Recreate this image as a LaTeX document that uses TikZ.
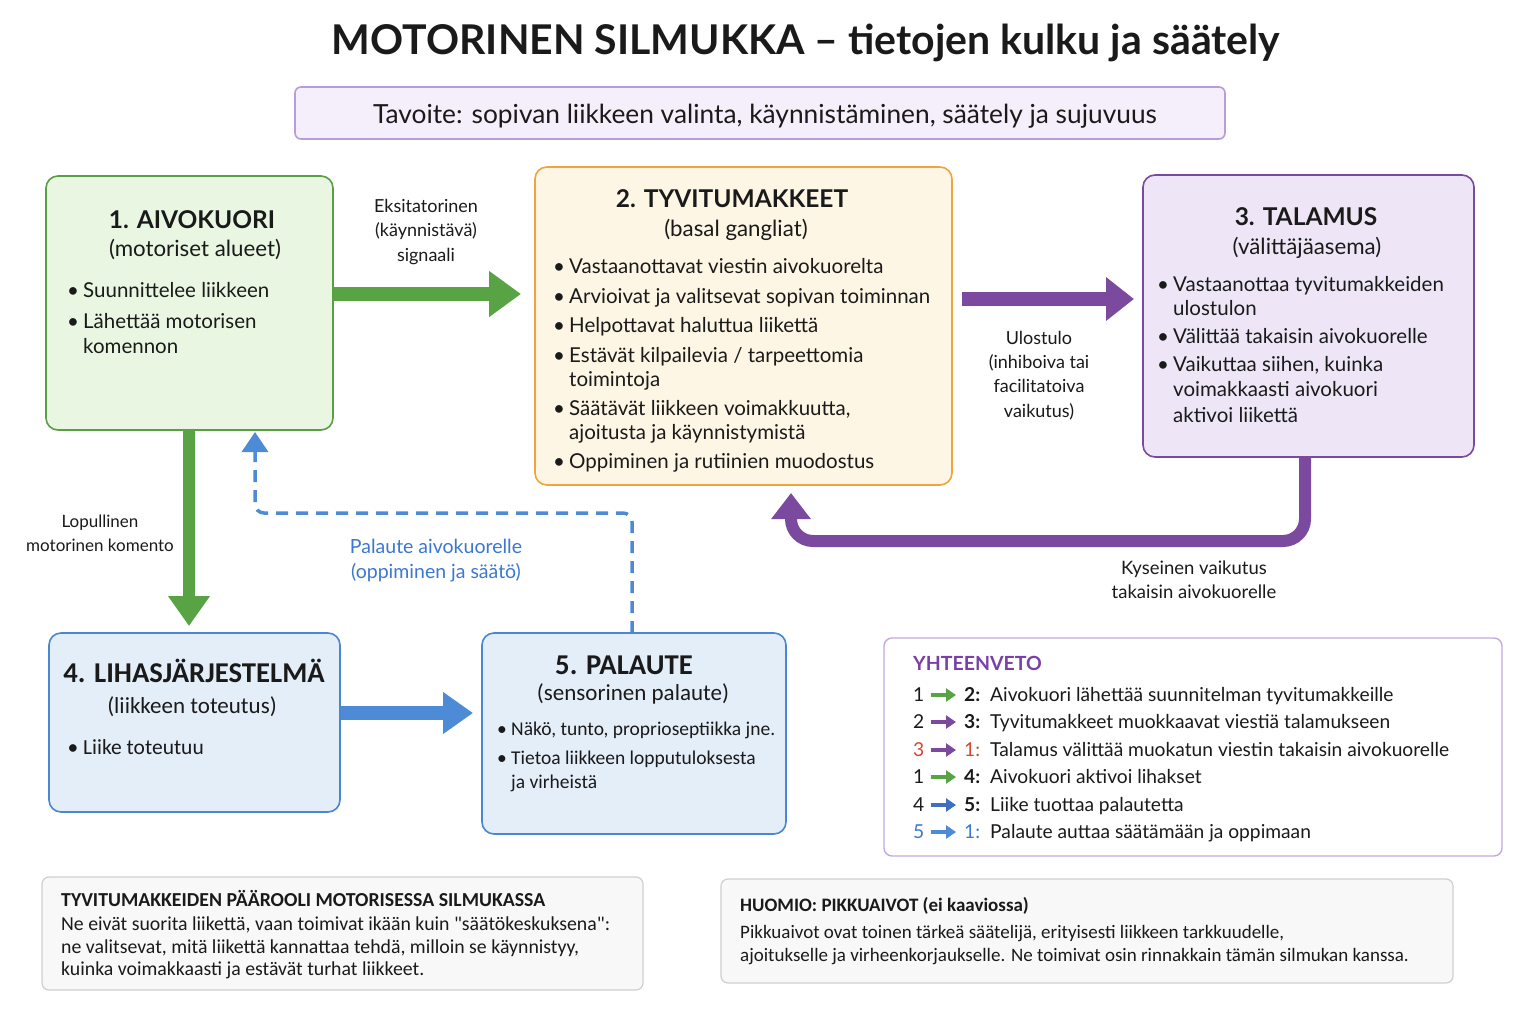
\documentclass[tikz,border=0pt]{standalone}
\usepackage{fontspec}
\setmainfont{Lato}
\newfontfamily\narrow{Carlito}
\usetikzlibrary{arrows.meta,calc}
\definecolor{gfill}{HTML}{E8F6E2}
\definecolor{gline}{HTML}{5A9E46}
\definecolor{garr}{HTML}{58A445}
\definecolor{ofill}{HTML}{FEF6E4}
\definecolor{oline}{HTML}{F1A43A}
\definecolor{pfill}{HTML}{EEE6F6}
\definecolor{pline}{HTML}{7A4AA0}
\definecolor{parr}{HTML}{7B4A9E}
\definecolor{bfill}{HTML}{E4EEF9}
\definecolor{bline}{HTML}{4A87D1}
\definecolor{barr}{HTML}{4E8BD6}
\definecolor{goalfill}{HTML}{F4EFFA}
\definecolor{goalline}{HTML}{B79DD9}
\definecolor{sumline}{HTML}{C3A9DF}
\definecolor{sumhead}{HTML}{7A3FA8}
\definecolor{nred}{HTML}{D5452E}
\definecolor{nblue}{HTML}{3B78D0}
\definecolor{dblue}{HTML}{3F6FC0}
\definecolor{noteline}{HTML}{CFCFCF}
\definecolor{notefill}{HTML}{F8F8F8}
\definecolor{txt}{HTML}{1A1A1A}
\newcommand\bitem[5]{%
  \node[itm] (#1) at (#3,#4) {#5};
  \node[itm,anchor=base] (#1b) at (#2,#4) {\textbullet};}
\newcommand\nitem[5]{%
  \node[nitm] (#1) at (#3,#4) {#5};
  \node[nitm,anchor=base] (#1b) at (#2,#4) {\textbullet};}
\begin{document}
\begin{tikzpicture}[x=1pt,y=-1pt,
  every node/.style={text=txt},
  box/.style={rounded corners=12pt, line width=1.6pt, inner sep=0pt},
  ttl/.style={font=\fontsize{24.5}{28}\selectfont\bfseries, anchor=base, inner sep=0pt},
  sub/.style={font=\fontsize{22.3}{24}\selectfont, anchor=base, inner sep=0pt},
  itm/.style={font=\fontsize{20.5}{22}\selectfont, anchor=base west, inner sep=0pt},
  nttl/.style={font=\narrow\fontsize{28.7}{30}\selectfont\bfseries, anchor=base, inner sep=0pt},
  nsub/.style={font=\narrow\fontsize{23}{26}\selectfont, anchor=base, inner sep=0pt},
  nitm/.style={font=\narrow\fontsize{19.5}{22}\selectfont, anchor=base west, inner sep=0pt},
  lbl/.style={font=\fontsize{18}{24.3}\selectfont, align=center, inner sep=0pt},
  srow/.style={font=\fontsize{19.2}{20}\selectfont, anchor=base west, inner sep=0pt},
  note/.style={font=\narrow\fontsize{19.8}{20}\selectfont, anchor=base west, inner sep=0pt},
  notetwo/.style={font=\narrow\fontsize{19}{20}\selectfont, anchor=base west, inner sep=0pt},
  fat/.style={line width=14pt, line cap=butt},
  sarr/.style={line width=3.2pt, -{Triangle[width=13pt,length=10pt]}},
]
\useasboundingbox[fill=white] (0,0) rectangle (1536,1024);

% title
\node[font=\fontsize{41}{44}\selectfont\bfseries, anchor=base, inner sep=0pt] (title) at (806,55) {MOTORINEN SILMUKKA – tietojen kulku ja säätely};

% goal
\node[box, rounded corners=6pt, draw=goalline, fill=goalfill, minimum width=930pt, minimum height=52pt] (goal) at (760,113) {};
\node[font=\fontsize{26.3}{28}\selectfont, anchor=base, inner sep=0pt] (goalt) at (765,124) {Tavoite: sopivan liikkeen valinta, käynnistäminen, säätely ja sujuvuus};

% box 1
\node[box, draw=gline, fill=gfill, minimum width=287pt, minimum height=254pt] (b1) at (189.5,303) {};
\node[ttl] (b1t) at (192,229) {1. AIVOKUORI};
\node[sub] (b1s) at (195,257) {(motoriset alueet)};
\bitem{b1i1}{73}{83}{298}{Suunnittelee liikkeen}
\bitem{b1i2}{73}{83}{328}{Lähettää motorisen}
\node[itm] (b1i2c) at (83,353) {komennon};

% box 2
\node[box, draw=oline, fill=ofill, minimum width=417pt, minimum height=318pt] (b2) at (743.5,326) {};
\node[ttl] (b2t) at (732,208) {2. TYVITUMAKKEET};
\node[sub] (b2s) at (736,237) {(basal gangliat)};
\bitem{b2i1}{559}{569}{273}{Vastaanottavat viestin aivokuorelta}
\bitem{b2i2}{559}{569}{303}{Arvioivat ja valitsevat sopivan toiminnan}
\bitem{b2i3}{559}{569}{332}{Helpottavat haluttua liikettä}
\bitem{b2i4}{559}{569}{362}{Estävät kilpailevia / tarpeettomia}
\node[itm] (b2i4c) at (569,386) {toimintoja};
\bitem{b2i5}{559}{569}{415}{Säätävät liikkeen voimakkuutta,}
\node[itm] (b2i5c) at (569,439) {ajoitusta ja käynnistymistä};
\bitem{b2i6}{559}{569}{468}{Oppiminen ja rutiinien muodostus}

% box 3
\node[box, draw=pline, fill=pfill, minimum width=331pt, minimum height=282pt] (b3) at (1308.5,316) {};
\node[ttl] (b3t) at (1306,226) {3. TALAMUS};
\node[sub] (b3s) at (1307,255) {(välittäjäasema)};
\bitem{b3i1}{1163}{1173}{291}{Vastaanottaa tyvitumakkeiden}
\node[itm] (b3i1c) at (1173,316) {ulostulon};
\bitem{b3i2}{1163}{1173}{343}{Välittää takaisin aivokuorelle}
\bitem{b3i3}{1163}{1173}{371}{Vaikuttaa siihen, kuinka}
\node[itm] (b3i3c) at (1173,396) {voimakkaasti aivokuori};
\node[itm] (b3i3d) at (1173,422) {aktivoi liikettä};

% box 4
\node[box, draw=bline, fill=bfill, minimum width=291pt, minimum height=179pt] (b4) at (194.5,722.5) {};
\node[nttl] (b4t) at (194,682) {4. LIHASJÄRJESTELMÄ};
\node[nsub] (b4s) at (192,713) {(liikkeen toteutus)};
\node[nitm, font=\narrow\fontsize{21.5}{22}\selectfont] (b4i1) at (83,754) {Liike toteutuu};
\node[nitm, font=\narrow\fontsize{21.5}{22}\selectfont, anchor=base] (b4i1b) at (73,754) {\textbullet};

% box 5
\node[box, draw=bline, fill=bfill, minimum width=304pt, minimum height=201pt] (b5) at (634,733.5) {};
\node[nttl] (b5t) at (624,674) {5. PALAUTE};
\node[nsub] (b5s) at (633,700) {(sensorinen palaute)};
\nitem{b5i1}{502}{511}{735}{Näkö, tunto, proprioseptiikka jne.}
\nitem{b5i2}{502}{511}{764}{Tietoa liikkeen lopputuloksesta}
\node[nitm] (b5i2c) at (511,788) {ja virheistä};

% arrows
\coordinate (a12s) at (b1.east |- 0,294);
\coordinate (a12e) at (521,294);
\draw[fat, garr, -{Triangle[width=44pt,length=32pt]}] (a12s) -- (a12e);
\node[lbl] (l12) at (426,232) {Eksitatorinen\\(käynnistävä)\\signaali};

\coordinate (a23s) at (962,299);
\coordinate (a23e) at (1134,299);
\draw[fat, parr, -{Triangle[width=42pt,length=28pt]}] (a23s) -- (a23e);
\node[lbl] (l23) at (1039,375.5) {Ulostulo\\(inhiboiva tai\\facilitatoiva\\vaikutus)};

\coordinate (a31s) at (1305,456);
\coordinate (a31e) at (791,493);
\draw[line width=12pt, parr, rounded corners=22pt, -{Triangle[width=38pt,length=26pt]}] (a31s) -- (1305,541) -- (791,541) -- (a31e);
\node[lbl, font=\fontsize{18.5}{23.5}\selectfont] (l31) at (1194,580) {Kyseinen vaikutus\\takaisin aivokuorelle};

\coordinate (a14s) at (189,429);
\coordinate (a14e) at (189,626);
\draw[line width=12pt, garr, -{Triangle[width=40pt,length=30pt]}] (a14s) -- (a14e);
\node[lbl, font=\fontsize{17}{24}\selectfont] (l14) at (100,533) {Lopullinen\\motorinen komento};

\coordinate (a45s) at (b4.east |- 0,713);
\coordinate (a45e) at (473,713);
\draw[fat, barr, -{Triangle[width=40pt,length=30pt]}] (a45s) -- (a45e);

\coordinate (a51s) at (632,633);
\coordinate (a51e) at (255,432);
\draw[line width=3.5pt, barr, dash pattern=on 12pt off 8pt, rounded corners=9pt, -{Triangle[width=26pt,length=20pt]}] (a51s) -- (632,513) -- (255,513) -- (a51e);
\node[lbl, text=nblue, font=\fontsize{19.5}{25}\selectfont] (l51) at (436,561) {Palaute aivokuorelle\\(oppiminen ja säätö)};

% summary
\node[box, rounded corners=8pt, line width=1.4pt, draw=sumline, fill=white, minimum width=618pt, minimum height=218pt] (sum) at (1193,747) {};
\node[srow, font=\fontsize{19.5}{20}\selectfont\bfseries, text=sumhead] (sumh) at (913,670) {YHTEENVETO};
\node[srow] (s1a) at (913,701) {1};
\node[srow] (s1b) at (964,701) {\textbf{2:}};
\node[srow] (s1c) at (990,701) {Aivokuori lähettää suunnitelman tyvitumakkeille};
\draw[sarr, garr] (s1a.east |- 0,695) ++(6,0) coordinate (s1s) -- (956,695);
\node[srow] (s2a) at (913,728) {2};
\node[srow] (s2b) at (964,728) {\textbf{3:}};
\node[srow] (s2c) at (990,728) {Tyvitumakkeet muokkaavat viestiä talamukseen};
\draw[sarr, parr] (s2a.east |- 0,722) ++(6,0) -- (956,722);
\node[srow, text=nred] (s3a) at (913,756) {3};
\node[srow, text=nred] (s3b) at (964,756) {1:};
\node[srow] (s3c) at (990,756) {Talamus välittää muokatun viestin takaisin aivokuorelle};
\draw[sarr, parr] (s3a.east |- 0,750) ++(6,0) -- (956,750);
\node[srow] (s4a) at (913,783) {1};
\node[srow] (s4b) at (964,783) {\textbf{4:}};
\node[srow] (s4c) at (990,783) {Aivokuori aktivoi lihakset};
\draw[sarr, garr] (s4a.east |- 0,777) ++(6,0) -- (956,777);
\node[srow] (s5a) at (913,811) {4};
\node[srow] (s5b) at (964,811) {\textbf{5:}};
\node[srow] (s5c) at (990,811) {Liike tuottaa palautetta};
\draw[sarr, dblue] (s5a.east |- 0,805) ++(6,0) -- (956,805);
\node[srow, text=nblue] (s6a) at (913,838) {5};
\node[srow, text=nblue] (s6b) at (964,838) {1:};
\node[srow] (s6c) at (990,838) {Palaute auttaa säätämään ja oppimaan};
\draw[sarr, barr] (s6a.east |- 0,832) ++(6,0) -- (956,832);

% notes
\node[box, rounded corners=7pt, line width=1.2pt, draw=noteline, fill=notefill, minimum width=601pt, minimum height=113pt] (n1) at (342.5,933.5) {};
\node[note, font=\narrow\fontsize{19.8}{20}\selectfont\bfseries] (n1a) at (61,906) {TYVITUMAKKEIDEN PÄÄROOLI MOTORISESSA SILMUKASSA};
\node[note] (n1b) at (61,930) {Ne eivät suorita liikettä, vaan toimivat ikään kuin "säätökeskuksena":};
\node[note] (n1c) at (61,953) {ne valitsevat, mitä liikettä kannattaa tehdä, milloin se käynnistyy,};
\node[note] (n1d) at (61,975) {kuinka voimakkaasti ja estävät turhat liikkeet.};

\node[box, rounded corners=7pt, line width=1.2pt, draw=noteline, fill=notefill, minimum width=732pt, minimum height=104pt] (n2) at (1087,931) {};
\node[notetwo, font=\narrow\fontsize{19}{20}\selectfont\bfseries] (n2a) at (740,911) {HUOMIO: PIKKUAIVOT (ei kaaviossa)};
\node[notetwo] (n2b) at (740,938) {Pikkuaivot ovat toinen tärkeä säätelijä, erityisesti liikkeen tarkkuudelle,};
\node[notetwo] (n2c) at (740,961) {ajoitukselle ja virheenkorjaukselle. Ne toimivat osin rinnakkain tämän silmukan kanssa.};
\end{tikzpicture}
\end{document}
